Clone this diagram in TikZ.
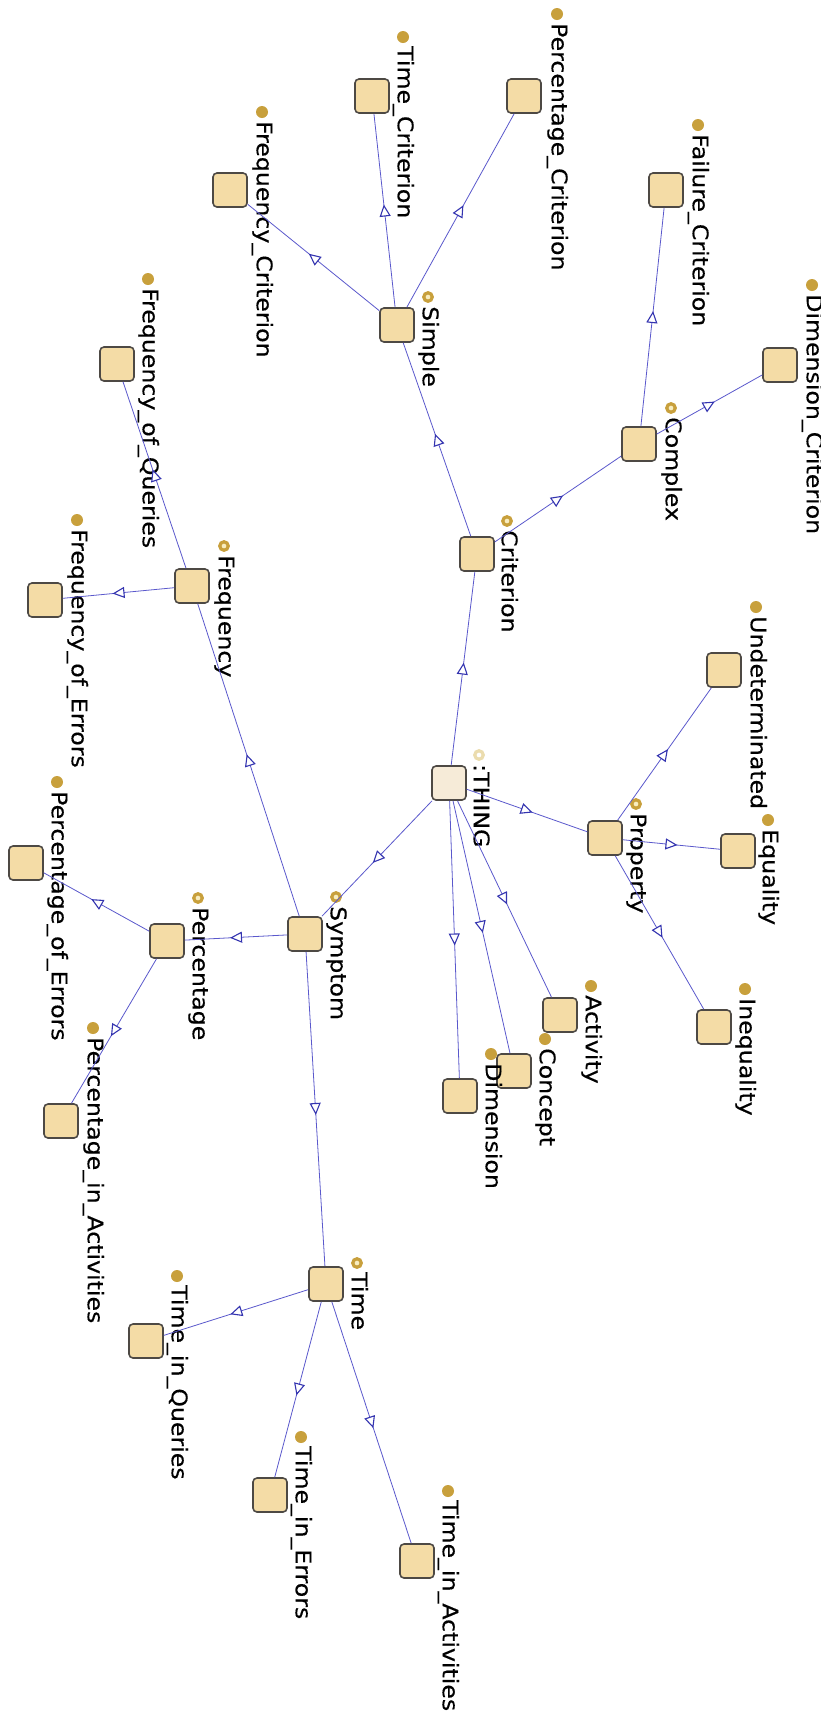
\documentclass[tikz,border=0pt]{standalone}
\usepackage{fontspec}
\usetikzlibrary{arrows.meta,decorations.markings}
\newfontfamily\labfont[FakeStretch=1.1,FakeBold=0.35]{DejaVu Sans}
\definecolor{dotgold}{HTML}{C8A03C}
\definecolor{ringin}{HTML}{F8EDC0}
\definecolor{thingring}{HTML}{EBDCAE}
\definecolor{boxfill}{HTML}{F4DCA6}
\definecolor{boxdraw}{HTML}{4D4944}
\definecolor{thingfill}{HTML}{F6EBD8}
\definecolor{edgecol}{HTML}{5A58CC}
\definecolor{arrowcol}{HTML}{3434B0}
\tikzset{
  clsbox/.style={rectangle, rounded corners=4pt, minimum size=34pt, inner sep=0pt,
    fill=boxfill, draw=boxdraw, line width=1.6pt},
  thingbox/.style={clsbox, fill=thingfill},
  leafdot/.style={circle, inner sep=0pt, minimum size=12pt, fill=dotgold},
  ringdot/.style={circle, inner sep=0pt, minimum size=8.5pt, draw=dotgold, line width=3.2pt, fill=ringin},
  thingdot/.style={circle, inner sep=0pt, minimum size=8.5pt, draw=thingring, line width=3.2pt, fill=white},
  lbl/.style={rotate=-90, anchor=west, inner sep=0pt, text height=15.5pt, text depth=5pt,
    font=\labfont\fontsize{21.5}{25}\selectfont, text=black},
  isa/.style={draw=edgecol, line width=0.8pt, postaction={decorate},
    decoration={markings, mark=at position 0.5 with
      {\arrow[xshift=6pt, arrowcol]{Triangle[length=12pt, width=11pt, fill=white, line width=1.1pt]}}}}
}
% #1 name, #2 centre, #3 dot position, #4 dot style, #5 label, #6 box style
\newcommand{\oclass}[6]{%
  \node[#6] (#1) at #2 {};
  \node[#4] (#1-dot) at #3 {};
  \node[lbl] (#1-lbl) at ([yshift=-9pt]#1-dot.center) {#5};
}
\begin{document}
\begin{tikzpicture}[x=1pt, y=-1pt]
\fill[white] (0,0) rectangle (821,1717);
\useasboundingbox (0,0) rectangle (821,1717);

\oclass{thing}{(449,783)}{(479,755)}{thingdot}{:THING}{thingbox}
\oclass{crit}{(477,554)}{(507,521)}{ringdot}{Criterion}{clsbox}
\oclass{simple}{(397,325)}{(428,297)}{ringdot}{Simple}{clsbox}
\oclass{complex}{(639,444)}{(671,408)}{ringdot}{Complex}{clsbox}
\oclass{timecrit}{(372,96)}{(403,37)}{leafdot}{Time\_Criterion}{clsbox}
\oclass{perccrit}{(524,96)}{(557,14)}{leafdot}{Percentage\_Criterion}{clsbox}
\oclass{freqcrit}{(230,190)}{(262,112)}{leafdot}{Frequency\_Criterion}{clsbox}
\oclass{failcrit}{(666,190)}{(698,125)}{leafdot}{Failure\_Criterion}{clsbox}
\oclass{dimcrit}{(780,365)}{(812,285)}{leafdot}{Dimension\_Criterion}{clsbox}
\oclass{prop}{(605,838)}{(636,804)}{ringdot}{Property}{clsbox}
\oclass{undet}{(724,670)}{(756,607)}{leafdot}{Undeterminated}{clsbox}
\oclass{equal}{(738,851)}{(768,820)}{leafdot}{Equality}{clsbox}
\oclass{inequal}{(714,1027)}{(745,989)}{leafdot}{Inequality}{clsbox}
\oclass{activity}{(560,1015)}{(591,986)}{leafdot}{Activity}{clsbox}
\oclass{concept}{(514,1071)}{(545,1039)}{leafdot}{Concept}{clsbox}
\oclass{dimension}{(460,1096)}{(491,1054)}{leafdot}{Dimension}{clsbox}
\oclass{symptom}{(305,934)}{(336,897)}{ringdot}{Symptom}{clsbox}
\oclass{freq}{(192,586)}{(224,546)}{ringdot}{Frequency}{clsbox}
\oclass{freqq}{(117,364)}{(148,279)}{leafdot}{Frequency\_of\_Queries}{clsbox}
\oclass{freqe}{(45,600)}{(77,520)}{leafdot}{Frequency\_of\_Errors}{clsbox}
\oclass{perc}{(167,941)}{(198,898)}{ringdot}{Percentage}{clsbox}
\oclass{perce}{(26,863)}{(57,782)}{leafdot}{Percentage\_of\_Errors}{clsbox}
\oclass{perca}{(61,1121)}{(93,1028)}{leafdot}{Percentage\_in\_Activities}{clsbox}
\oclass{time}{(326,1284)}{(357,1263)}{ringdot}{Time}{clsbox}
\oclass{timeq}{(146,1341)}{(177,1276)}{leafdot}{Time\_in\_Queries}{clsbox}
\oclass{timee}{(270,1495)}{(301,1437)}{leafdot}{Time\_in\_Errors}{clsbox}
\oclass{timea}{(417,1561)}{(448,1491)}{leafdot}{Time\_in\_Activities}{clsbox}

\foreach \p/\c in {thing/crit, thing/prop, thing/symptom, thing/activity, thing/concept, thing/dimension,
  crit/simple, crit/complex,
  simple/timecrit, simple/perccrit, simple/freqcrit,
  complex/failcrit, complex/dimcrit,
  prop/undet, prop/equal, prop/inequal,
  symptom/freq, symptom/perc, symptom/time,
  freq/freqq, freq/freqe,
  perc/perce, perc/perca,
  time/timeq, time/timee, time/timea}
  \draw[isa] (\p) -- (\c);
\end{tikzpicture}
\end{document}
